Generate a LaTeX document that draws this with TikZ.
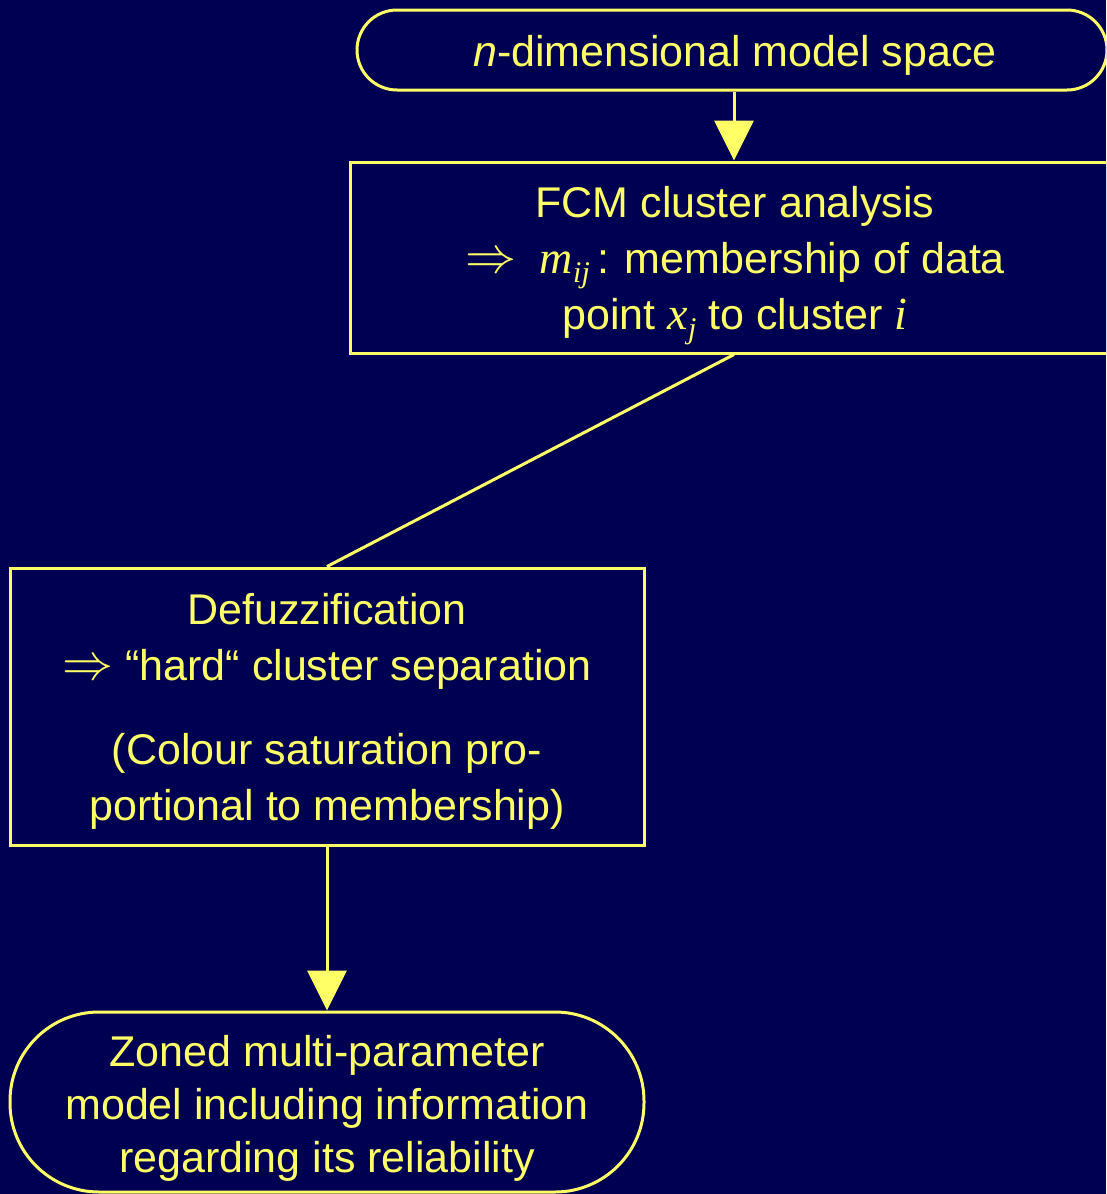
\documentclass[tikz,border=0pt]{standalone}
\usepackage{fontspec}
\usepackage{graphicx}
\setmainfont{Liberation Sans}
\newfontfamily\tnr{Liberation Serif}
\usetikzlibrary{arrows.meta}
\definecolor{bg}{RGB}{0,0,82}
\definecolor{yel}{RGB}{255,255,102}
\newcommand{\dbl}{\raisebox{1pt}{\scalebox{2.05}{$\Rightarrow$}}}
\begin{document}
\begin{tikzpicture}[x=1pt,y=-1pt,
  every node/.style={text=yel, font=\fontsize{43}{56}\selectfont, align=center, inner sep=0pt},
  boxshape/.style={draw=yel, line width=3pt, fill=bg},
  conn/.style={draw=yel, line width=3pt},
  arr/.style={conn, -{Triangle[length=40pt,width=39pt]}}]
\fill[bg] (0,0) rectangle (1106,1194);
\useasboundingbox (0,0) rectangle (1106,1194);
\clip (0,0) rectangle (1106,1194);

\node[boxshape, rounded corners=40pt, minimum width=750pt, minimum height=80pt] (space) at (732,50) {};
\node (spacet) at (735,55) {{\itshape n}-dimensional model space};

\node[boxshape, minimum width=790pt, minimum height=191pt, anchor=west] (fcm) at (349,257.5) {};
\node (fcmt) at (735,266) {FCM cluster analysis\\
  \dbl\ \ {\tnr\itshape\fontsize{46}{46}\selectfont m}\raisebox{-9pt}{\fontsize{30}{30}\selectfont\tnr\itshape ij}\,: membership of data\\
  point {\tnr\itshape\fontsize{46}{46}\selectfont x}\raisebox{-9pt}{\fontsize{30}{30}\selectfont\tnr\itshape j} to cluster {\tnr\itshape\fontsize{46}{46}\selectfont i}};

\node[boxshape, minimum width=634pt, minimum height=277pt] (defuzz) at (327,706.5) {};
\node (defuzzt) at (327,711) {Defuzzification\\
  \dbl\ “hard“ cluster separation\\[28pt]
  (Colour saturation pro-\\
  portional to membership)};

\node[boxshape, rounded corners=89pt, minimum width=634pt, minimum height=180pt] (zoned) at (327,1102) {};
\node[font=\fontsize{43}{53}\selectfont] (zonedt) at (327,1108) {Zoned multi-parameter\\
  model including information\\
  regarding its reliability};

\draw[arr] (space.south -| 734,0) -- (fcm.north -| 734,0);
\draw[conn] (fcm.south -| 734,0) -- (defuzz.north);
\draw[arr] (defuzz.south) -- (zoned.north);
\end{tikzpicture}
\end{document}
